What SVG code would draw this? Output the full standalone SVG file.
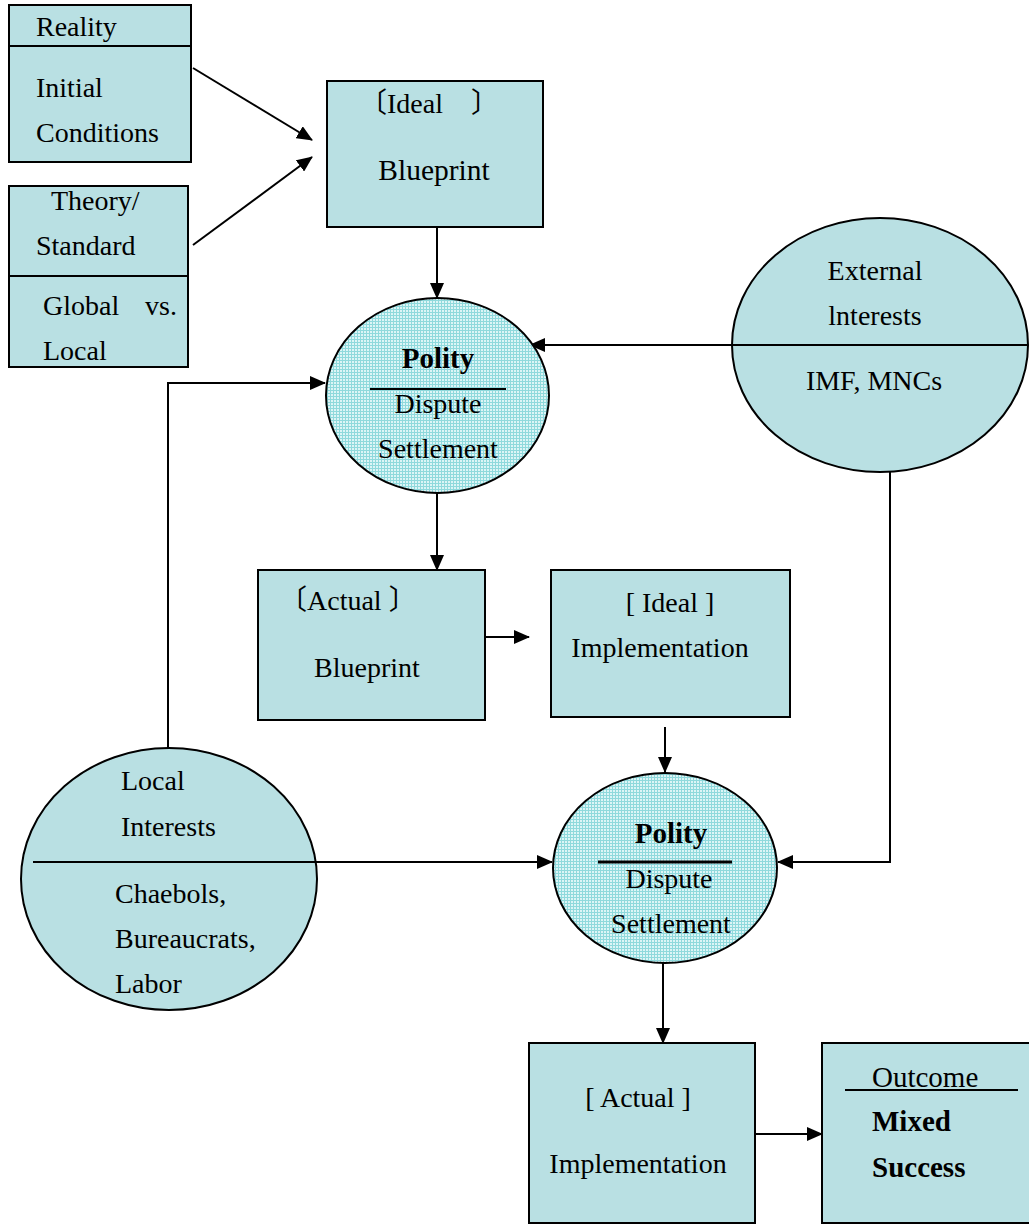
<svg xmlns="http://www.w3.org/2000/svg" width="1029" height="1224" viewBox="0 0 1029 1224">
<style>
.box{fill:#b9e0e3;stroke:#000;stroke-width:2}
.ell{fill:#b9e0e3;stroke:#000;stroke-width:2}
.pol{fill:url(#grid);stroke:#000;stroke-width:2}
.div{stroke:#000;stroke-width:2;fill:none}
.t{font-family:"Liberation Serif","Times New Roman","DejaVu Serif",serif;font-size:28px;fill:#000}
.cjk{font-family:"Noto Sans CJK SC",sans-serif}
.b{font-weight:bold;font-size:29px}
.m{text-anchor:middle}
.c{stroke:#000;stroke-width:2;fill:none;marker-end:url(#ah)}
</style>
<defs>
<pattern id="grid" width="3" height="3" patternUnits="userSpaceOnUse">
<rect width="3" height="3" fill="#dcf5f6"/>
<path d="M0 0.5H3M0.5 0V3" stroke="#8fd9dc" stroke-width="1"/>
</pattern>
<marker id="ah" markerUnits="userSpaceOnUse" markerWidth="16" markerHeight="14" refX="15" refY="7" orient="auto">
<path d="M0,0 L16,7 L0,14 Z" fill="#000"/>
</marker>
</defs>
<rect width="1029" height="1224" fill="#fff"/>

<g id="connectors">
<line class="c" x1="193" y1="68" x2="312" y2="140"/>
<line class="c" x1="193" y1="245" x2="312" y2="157"/>
<line class="c" x1="437" y1="227" x2="437" y2="298"/>
<line class="c" x1="732" y1="345" x2="530" y2="345"/>
<path class="c" d="M168,750 V383 H325"/>
<line class="c" x1="437" y1="493" x2="437" y2="570"/>
<line class="c" x1="485" y1="637" x2="529" y2="637"/>
<line class="c" x1="665" y1="727" x2="665" y2="772"/>
<line class="c" x1="213" y1="862" x2="552" y2="862"/>
<path class="c" d="M890,435 V862 H778"/>
<line class="c" x1="663" y1="963" x2="663" y2="1043"/>
<line class="c" x1="755" y1="1134" x2="822" y2="1134"/>
</g>

<g id="reality">
<rect class="box" x="9" y="5" width="182" height="157"/>
<line class="div" x1="9" y1="46" x2="191" y2="46"/>
<text class="t" x="36" y="36">Reality</text>
<text class="t" x="36" y="97">Initial</text>
<text class="t" x="36" y="142">Conditions</text>
</g>

<g id="theory">
<rect class="box" x="9" y="186" width="179" height="181"/>
<line class="div" x1="9" y1="276" x2="188" y2="276"/>
<text class="t" x="51" y="210">Theory/</text>
<text class="t" x="36" y="255">Standard</text>
<text class="t" x="43" y="315">Global</text>
<text class="t" x="145" y="315">vs.</text>
<text class="t" x="43" y="360">Local</text>
</g>

<g id="ideal-blueprint">
<rect class="box" x="327" y="81" width="216" height="146"/>
<text class="t" x="359" y="113"><tspan class="cjk">〔</tspan>Ideal<tspan class="cjk">　〕</tspan></text>
<text class="t m" x="434" y="180" style="font-size:29.5px">Blueprint</text>
</g>

<g id="polity1">
<ellipse class="pol" cx="437.5" cy="395.5" rx="111.5" ry="97.5"/>
<text class="t b m" x="438" y="368">Polity</text>
<line class="div" x1="370" y1="389" x2="506" y2="389"/>
<text class="t m" x="438" y="413">Dispute</text>
<text class="t m" x="438" y="458">Settlement</text>
</g>

<g id="external">
<ellipse class="ell" cx="880" cy="345" rx="148" ry="127"/>
<line class="div" x1="732" y1="345" x2="1028" y2="345"/>
<text class="t m" x="875" y="280">External</text>
<text class="t m" x="875" y="325">lnterests</text>
<text class="t m" x="874" y="390">IMF, MNCs</text>
</g>

<g id="actual-blueprint">
<rect class="box" x="258" y="570" width="227" height="150"/>
<text class="t" x="279" y="610"><tspan class="cjk">〔</tspan>Actual <tspan class="cjk">〕</tspan></text>
<text class="t m" x="367" y="677">Blueprint</text>
</g>

<g id="ideal-implementation">
<rect class="box" x="551" y="570" width="239" height="147"/>
<text class="t m" x="670" y="612">[ Ideal ]</text>
<text class="t m" x="660" y="657">Implementation</text>
</g>

<g id="local">
<ellipse class="ell" cx="169" cy="879" rx="148" ry="131"/>
<line class="div" x1="33" y1="862" x2="316" y2="862"/>
<text class="t" x="121" y="790">Local</text>
<text class="t" x="121" y="836">Interests</text>
<text class="t" x="115" y="903">Chaebols,</text>
<text class="t" x="115" y="948">Bureaucrats,</text>
<text class="t" x="115" y="993">Labor</text>
</g>

<g id="polity2">
<ellipse class="pol" cx="665" cy="868" rx="112" ry="95"/>
<text class="t b m" x="671" y="843">Polity</text>
<line x1="598" y1="862" x2="732" y2="862" stroke="#000" stroke-width="3"/>
<text class="t m" x="669" y="888">Dispute</text>
<text class="t m" x="671" y="933">Settlement</text>
</g>

<g id="actual-implementation">
<rect class="box" x="529" y="1043" width="226" height="180"/>
<text class="t m" x="638" y="1107">[ Actual ]</text>
<text class="t m" x="638" y="1173">Implementation</text>
</g>

<g id="outcome">
<rect class="box" x="822" y="1043" width="210" height="180"/>
<text class="t" x="872" y="1087" style="font-size:29px">Outcome</text>
<line class="div" x1="845" y1="1090" x2="1018" y2="1090"/>
<text class="t b" x="872" y="1131">Mixed</text>
<text class="t b" x="872" y="1177">Success</text>
</g>
</svg>
